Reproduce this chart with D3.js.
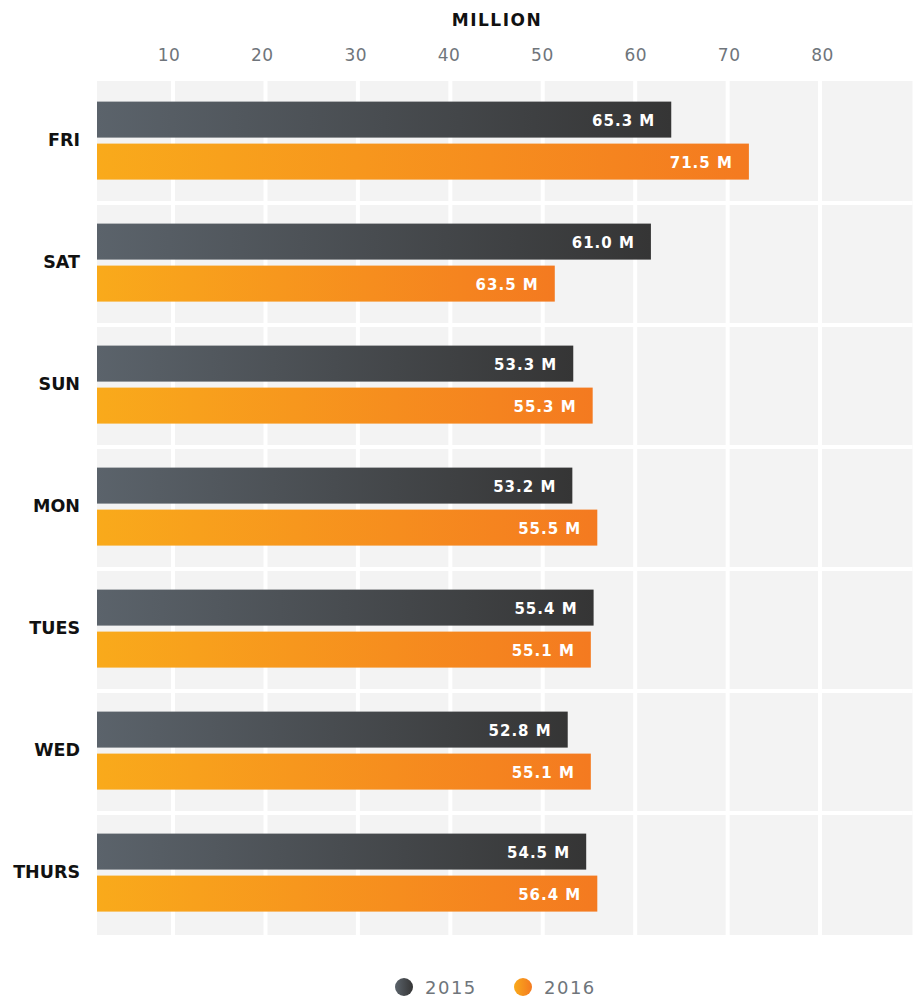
<!DOCTYPE html>
<html>
<head>
<meta charset="utf-8">
<script src="https://cdnjs.cloudflare.com/ajax/libs/d3/7.8.5/d3.min.js"></script>
<style>
  body { margin: 0; background: #fff; }
  text { font-family: "DejaVu Sans", sans-serif; }
  .tick text { fill: #6f757b; font-size: 17px; letter-spacing: 0.5px; }
</style>
</head>
<body>
<div id="chart"></div>
<script>
(function() {
  "use strict";

  // data
  var days = ["FRI", "SAT", "SUN", "MON", "TUES", "WED", "THURS"];
  var years = ["2015", "2016"];
  var values2015 = [63.9, 61.7, 53.3, 53.2, 55.5, 52.7, 54.7];
  var values2016 = [72.3, 51.3, 55.4, 55.9, 55.2, 55.2, 55.9];
  var labels2015 = ["65.3 M", "61.0 M", "53.3 M", "53.2 M", "55.4 M", "52.8 M", "54.5 M"];
  var labels2016 = ["71.5 M", "63.5 M", "55.3 M", "55.5 M", "55.1 M", "55.1 M", "56.4 M"];
  var tickValues = [10, 20, 30, 40, 50, 60, 70, 80];

  var w = 916, h = 999;
  var plotLeft = 97, plotTop = 81, plotBottom = 935;

  var rows = days.map(function(d, i) {
    return {
      day: d,
      bars: [
        { year: years[0], value: values2015[i], label: labels2015[i] },
        { year: years[1], value: values2016[i], label: labels2016[i] }
      ]
    };
  });

  var xScale = d3.scaleLinear()
    .domain([0, 90])
    .range([80.6, 912.5]);

  // the printed tick labels sit on a slightly wider spacing than the grid
  var xLabel = d3.scaleLinear()
    .domain([10, 80])
    .range([168.5, 822]);

  var yScale = d3.scaleBand()
    .domain(days)
    .range([plotTop, plotBottom]);

  var ySub = d3.scaleBand()
    .domain(years)
    .range([20.6, 98.6])
    .paddingInner(6 / 42);

  var svg = d3.select("#chart")
    .append("svg")
    .attr("width", w)
    .attr("height", h);

  // gradients, one per series, stretched over each bar
  var defs = svg.append("defs");
  var grads = {
    "2015": ["#5b636b", "#353535"],
    "2016": ["#f9aa1b", "#f47a20"]
  };
  years.forEach(function(y) {
    var g = defs.append("linearGradient")
      .attr("id", "grad" + y)
      .attr("x1", "0%").attr("x2", "100%")
      .attr("y1", "0%").attr("y2", "0%");
    g.append("stop").attr("offset", "0%").attr("stop-color", grads[y][0]);
    g.append("stop").attr("offset", "100%").attr("stop-color", grads[y][1]);
  });

  // plot background
  svg.append("rect")
    .attr("x", plotLeft)
    .attr("y", plotTop)
    .attr("width", xScale(90) - plotLeft)
    .attr("height", plotBottom - plotTop)
    .attr("fill", "#f3f3f3");

  // white grid lines
  svg.append("g")
    .selectAll("line")
    .data(tickValues)
    .enter()
    .append("line")
    .attr("x1", function(d) { return xScale(d); })
    .attr("x2", function(d) { return xScale(d); })
    .attr("y1", plotTop)
    .attr("y2", plotBottom)
    .attr("stroke", "#fff")
    .attr("stroke-width", 4);

  svg.append("g")
    .selectAll("line")
    .data(days.slice(1))
    .enter()
    .append("line")
    .attr("x1", plotLeft)
    .attr("x2", xScale(90))
    .attr("y1", function(d) { return yScale(d); })
    .attr("y2", function(d) { return yScale(d); })
    .attr("stroke", "#fff")
    .attr("stroke-width", 4);

  // top axis labels
  var xAxis = d3.axisTop(xLabel)
    .tickValues(tickValues)
    .tickSize(0)
    .tickPadding(0);

  svg.append("g")
    .attr("transform", "translate(0,61)")
    .call(xAxis)
    .call(function(g) { g.select(".domain").remove(); })
    .selectAll("text")
    .attr("dy", 0)
    .attr("font-family", null);

  svg.append("text")
    .attr("x", 497)
    .attr("y", 25.5)
    .attr("text-anchor", "middle")
    .style("font-size", "17px")
    .style("font-weight", "bold")
    .style("letter-spacing", "1.5px")
    .style("fill", "#111")
    .text("MILLION");

  // bars
  var groups = svg.append("g")
    .selectAll("g")
    .data(rows)
    .enter()
    .append("g")
    .attr("transform", function(d) { return "translate(0," + yScale(d.day) + ")"; });

  groups.append("text")
    .attr("x", 80)
    .attr("y", yScale.bandwidth() / 2 - 2)
    .attr("text-anchor", "end")
    .attr("dominant-baseline", "central")
    .style("font-size", "17.5px")
    .style("font-weight", "bold")
    .style("fill", "#111")
    .text(function(d) { return d.day; });

  var bar = groups.selectAll(".bar")
    .data(function(d) { return d.bars; })
    .enter()
    .append("g")
    .attr("class", "bar");

  bar.append("rect")
    .attr("x", plotLeft)
    .attr("y", function(d) { return ySub(d.year); })
    .attr("width", function(d) { return xScale(d.value) - plotLeft; })
    .attr("height", ySub.bandwidth())
    .style("fill", function(d) { return "url(#grad" + d.year + ")"; });

  bar.append("text")
    .attr("x", function(d) { return xScale(d.value) - 16; })
    .attr("y", function(d) { return ySub(d.year) + ySub.bandwidth() / 2 + 1; })
    .attr("text-anchor", "end")
    .attr("dominant-baseline", "central")
    .style("font-size", "15px")
    .style("font-weight", "bold")
    .style("letter-spacing", "1px")
    .style("fill", "#fff")
    .text(function(d) { return d.label; });

  // legend
  var legendX = { "2015": 404, "2016": 523 };
  var legend = svg.append("g")
    .selectAll("g")
    .data(years)
    .enter()
    .append("g")
    .attr("transform", function(d) { return "translate(" + legendX[d] + ",987)"; });

  legend.append("circle")
    .attr("r", 9)
    .style("fill", function(d) { return "url(#grad" + d + ")"; });

  legend.append("text")
    .attr("x", 21)
    .attr("y", 7)
    .style("font-size", "18px")
    .style("letter-spacing", "1.5px")
    .style("fill", "#6f757b")
    .text(function(d) { return d; });

})();
</script>
</body>
</html>
